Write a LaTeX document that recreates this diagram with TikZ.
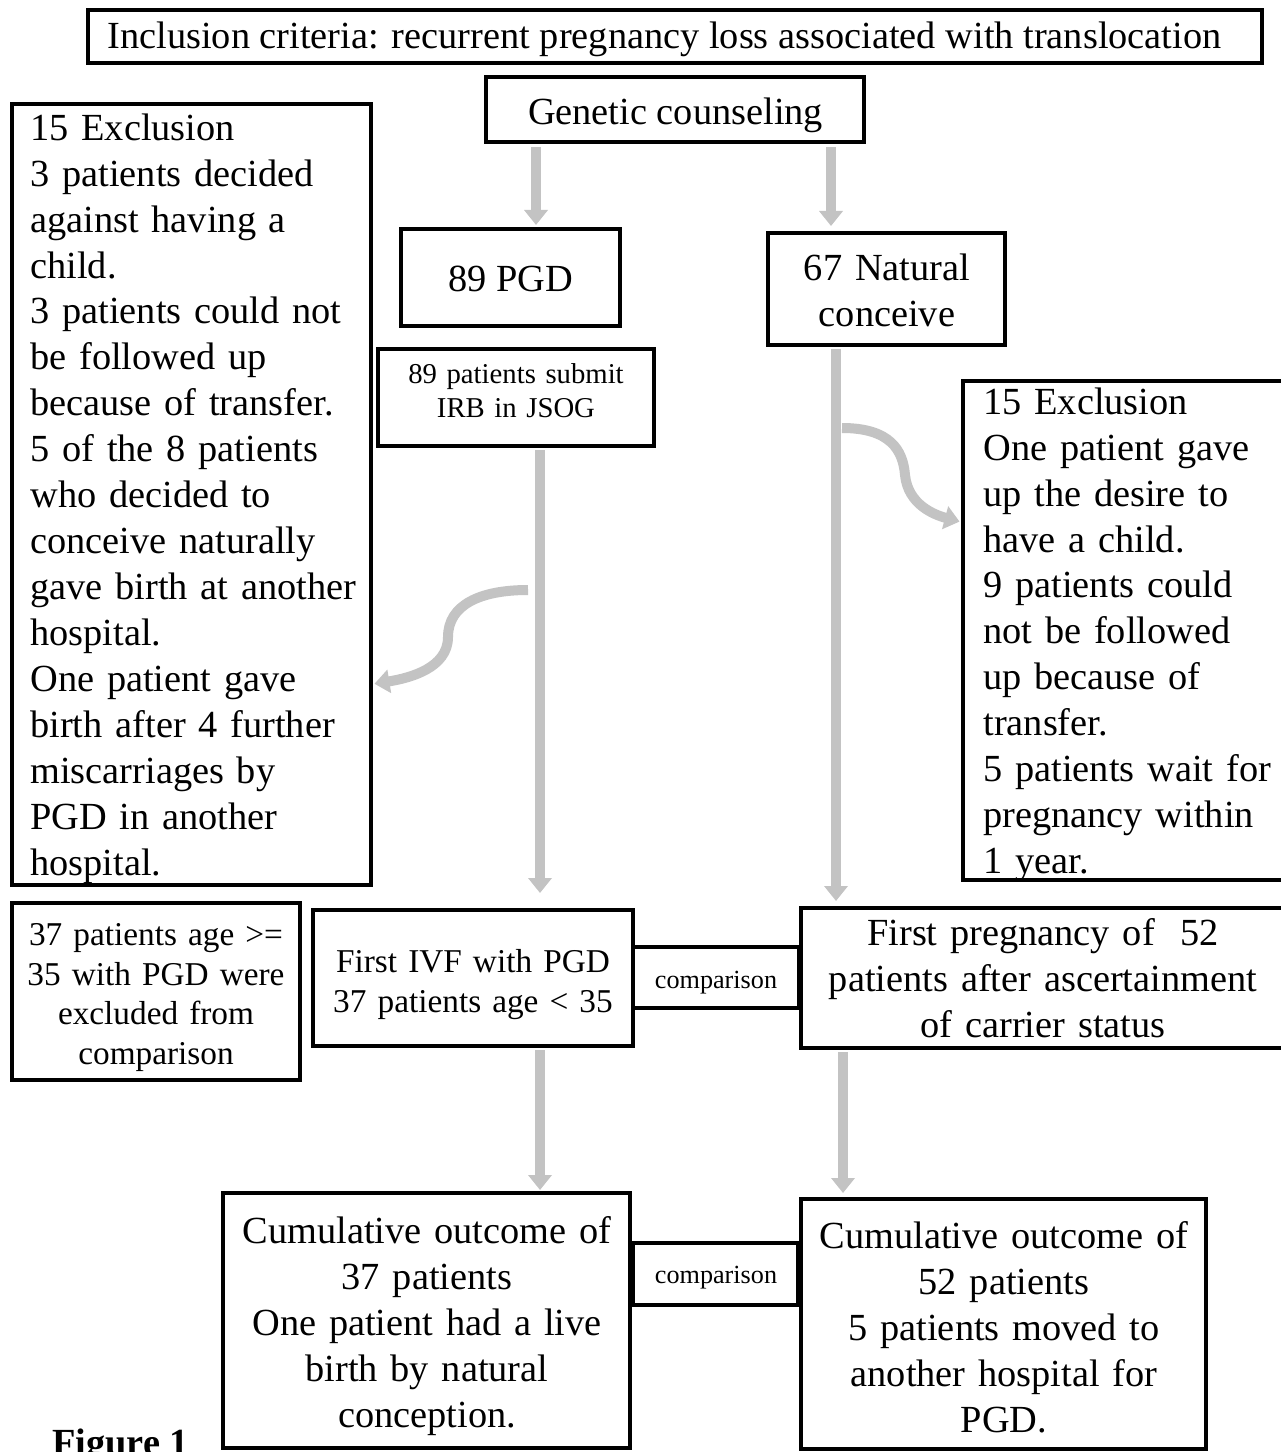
\documentclass[tikz,border=0pt]{standalone}
\usepackage{fontspec}
\setmainfont{Liberation Serif}
\usetikzlibrary{fit,arrows.meta}
\definecolor{arrowgray}{RGB}{195,195,195}
\newcommand\firstln{\rule{0pt}{20pt}}
\begin{document}
\begin{tikzpicture}[x=0.02cm,y=-0.02cm,
 box/.style={draw=black,line width=0.08cm,inner sep=0pt},
 big/.style={font=\fontsize{21.83pt}{26.15pt}\selectfont,inner sep=0pt},
 mid/.style={font=\fontsize{18.95pt}{22.68pt}\selectfont,inner sep=0pt},
 small/.style={font=\fontsize{16.35pt}{19.27pt}\selectfont,inner sep=0pt},
 comp/.style={font=\fontsize{14.9pt}{17.9pt}\selectfont,inner sep=0pt},
 ctr/.style={anchor=north,text width=12cm,align=center},
 lft/.style={anchor=north west,text width=12cm,align=left},
 garrow/.style={draw=arrowgray,line width=0.2cm,-{Triangle[length=0.3cm,width=0.46cm]}},
]
\useasboundingbox (0,0) rectangle (1280,1452);

% boxes
\node[box,fit={(88,10) (1262,63)}] (incl) {};
\node[box,fit={(486,77) (864,142)}] (gc) {};
\node[box,fit={(12,104) (371,885)}] (lex) {};
\node[box,fit={(401,229) (620,326)}] (pgd) {};
\node[box,fit={(768,233) (1005,345)}] (nat) {};
\node[box,fit={(378,349) (654,446)}] (irb) {};
\node[box,fit={(963,381) (1290,880)}] (rex) {};
\node[box,fit={(12,903) (300,1080)}] (age) {};
\node[box,fit={(313,910) (633,1046)}] (ivf) {};
\node[box,fit={(633,947) (799,1008)}] (comp1) {};
\node[box,fit={(801,908) (1290,1048)}] (fp) {};
\node[box,fit={(223,1193) (630,1448)}] (cum37) {};
\node[box,fit={(633,1243) (798,1305)}] (comp2) {};
\node[box,fit={(801,1199) (1206,1449)}] (cum52) {};

% texts
\node[big,anchor=base] (tincl) at (664.5,49) {Inclusion criteria: recurrent pregnancy loss associated with translocation};
\node[big,anchor=base] (tgc) at (675.5,125) {Genetic counseling};
\node[big,anchor=base] (tpgd) at (510.5,292) {89 PGD};
\node[big,ctr] (tnat) at (887,244.72) {\firstln 67 Natural\\conceive};
\node[small,ctr,font=\fontsize{16.35pt}{19.27pt}\selectfont] (tirb) at (516,354.72) {\rule{0pt}{16pt}89 patients submit\\IRB in JSOG};
\node[big,lft] (tlex) at (30,104.72) {\firstln 15 Exclusion\\3 patients decided\\against having a\\child.\\3 patients could not\\be followed up\\because of transfer.\\5 of the 8 patients\\who decided to\\conceive naturally\\gave birth at another\\hospital.\\One patient gave\\birth after 4 further\\miscarriages by\\PGD in another\\hospital.};
\node[big,lft] (trex) at (983,378.72) {\firstln 15 Exclusion\\One patient gave\\up the desire to\\have a child.\\9 patients could\\not be followed\\up because of\\transfer.\\5 patients wait for\\pregnancy within\\1 year.};
\node[mid,ctr] (tage) at (156,909.72) {\firstln 37 patients age >=\\35 with PGD were\\excluded from\\comparison};
\node[mid,ctr] (tivf) at (473,936.72) {\firstln First IVF with PGD\\37 patients age < 35};
\node[comp,anchor=base] (tc1) at (716,988) {comparison};
\node[big,ctr] (tfp) at (1043,909.72) {\firstln First pregnancy of\ \ 52\\patients after ascertainment\\of carrier status};
\node[comp,anchor=base] (tc2) at (716,1283) {comparison};
\node[big,ctr] (tcum37) at (427,1207.72) {\firstln Cumulative outcome of\\37 patients\\One patient had a live\\birth by natural\\conception.};
\node[big,ctr] (tcum52) at (1004,1212.72) {\firstln Cumulative outcome of\\52 patients\\5 patients moved to\\another hospital for\\PGD.};
\node[big,anchor=base west,font=\fontsize{21.83pt}{26.15pt}\selectfont\bfseries] (fig) at (52,1455) {Figure 1};

% straight arrows
\draw[garrow,shorten <=0.06cm,shorten >=0.04cm] (536,0 |- gc.south) -- (536,0 |- pgd.north);
\draw[garrow,shorten <=0.06cm,shorten >=0.1cm] (831,0 |- gc.south) -- (831,0 |- nat.north);
\draw[garrow,shorten <=0.04cm,shorten >=0.3cm] (540,0 |- irb.south) -- (540,0 |- ivf.north);
\draw[garrow,shorten <=0.04cm,shorten >=0.1cm] (836,0 |- nat.south) -- (836,0 |- fp.north);
\draw[garrow,shorten <=0.04cm,shorten >=0.02cm] (540,0 |- ivf.south) -- (540,0 |- cum37.north);
\draw[garrow,shorten <=0.04cm,shorten >=0.08cm] (843,0 |- fp.south) -- (843,0 |- cum52.north);

% curved arrows
\coordinate (cl) at (528,590);
\draw[garrow,shorten >=0.03cm] (cl) .. controls (480,590) and (448,605) .. (448,637) .. controls (448,668) and (410,678) .. (lex.east |- 0,684);
\coordinate (cr) at (842,428);
\draw[garrow,shorten >=0.03cm] (cr) .. controls (890,428) and (903,450) .. (905,475) .. controls (908,505) and (935,515) .. (rex.west |- 0,522);
\end{tikzpicture}
\end{document}
